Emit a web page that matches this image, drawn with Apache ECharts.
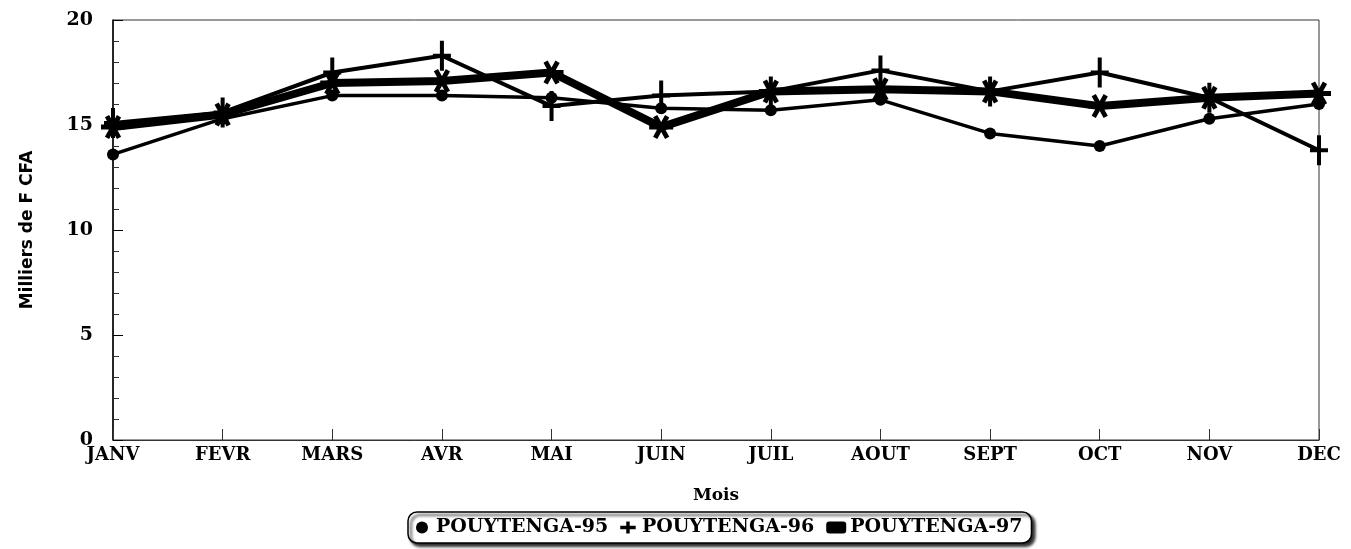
<!DOCTYPE html>
<html>
<head>
<meta charset="utf-8">
<script src="https://cdn.jsdelivr.net/npm/echarts@6/dist/echarts.min.js"></script>
<style>
  html, body { margin: 0; padding: 0; background: #fff; }
  #chart { width: 1351px; height: 549px; }
</style>
</head>
<body>
<div id="chart"></div>
<script>
// Monthly prices (thousands of F CFA), Pouytenga market
const months = ['JANV', 'FEVR', 'MARS', 'AVR', 'MAI', 'JUIN', 'JUIL', 'AOUT', 'SEPT', 'OCT', 'NOV', 'DEC'];
const pouytenga95 = [13.6, 15.3, 16.4, 16.4, 16.3, 15.8, 15.7, 16.2, 14.6, 14.0, 15.3, 16.0];
const pouytenga96 = [15.1, 15.6, 17.5, 18.3, 15.9, 16.4, 16.6, 17.6, 16.6, 17.5, 16.3, 13.8];
const pouytenga97 = [14.9, 15.5, 17.0, 17.1, 17.5, 14.9, 16.6, 16.7, 16.6, 15.9, 16.3, 16.5];
const yTicks = [0, 5, 10, 15, 20];

// marker shapes
const plusMark = 'path://M7,0h4v30h-4z M0,13h18v4h-18z';
const plusIcon = 'path://M7,0h4v14h-4z M0,5h18v4h-18z';
const starMark = 'path://M4,0L6,0L6,10L4,10Z M1.07,1.63L9.83,6.63L8.83,8.37L0.17,3.37Z M8.93,1.63L9.83,3.37L1.07,8.37L0.17,6.63Z';

const serif = '"DejaVu Serif", "Liberation Serif", serif';

const chart = echarts.init(document.getElementById('chart'));
chart.setOption({
  animation: false,
  backgroundColor: '#fff',
  grid: {
    left: 113, right: 32, top: 20, bottom: 109,
    show: true, borderColor: '#333', borderWidth: 1, backgroundColor: 'transparent'
  },
  legend: {
    left: 408, top: 512,
    orient: 'horizontal',
    itemWidth: 20, itemHeight: 12, itemGap: 12,
    padding: [6, 9, 6, 8],
    backgroundColor: '#fff',
    borderColor: '#000', borderWidth: 1.5, borderRadius: 9,
    shadowColor: 'rgba(0,0,0,0.85)', shadowBlur: 3, shadowOffsetX: 3, shadowOffsetY: 3,
    textStyle: { fontFamily: serif, fontSize: 19, fontWeight: 'bold', color: '#000', padding: [0, 0, 0, -1] },
    data: [
      { name: 'POUYTENGA-95', icon: 'circle' },
      { name: 'POUYTENGA-96', icon: plusIcon },
      { name: 'POUYTENGA-97', icon: 'roundRect' }
    ]
  },
  xAxis: {
    type: 'category',
    data: months,
    boundaryGap: false,
    name: 'Mois',
    nameLocation: 'middle',
    nameGap: 47,
    nameTextStyle: { fontFamily: serif, fontSize: 17, fontWeight: 'bold', color: '#000' },
    axisLine: { lineStyle: { color: '#333', width: 1 } },
    axisTick: { inside: true, length: 11, lineStyle: { color: '#333' } },
    axisLabel: { fontFamily: serif, fontSize: 18, fontWeight: 'bold', color: '#000', margin: 6 },
    splitLine: { show: false }
  },
  yAxis: {
    type: 'value',
    min: yTicks[0], max: yTicks[yTicks.length - 1], interval: 5,
    name: 'Milliers de F CFA',
    nameLocation: 'middle',
    nameGap: 77,
    nameRotate: 90,
    nameTextStyle: { fontFamily: '"DejaVu Sans", sans-serif', fontSize: 17, fontWeight: 'bold', color: '#000' },
    axisLine: { show: true, lineStyle: { color: '#000', width: 1.5 } },
    axisTick: { show: true, inside: true, length: 10, lineStyle: { color: '#000' } },
    minorTick: { show: true, splitNumber: 5, length: 6, lineStyle: { color: '#333' } },
    axisLabel: { fontFamily: serif, fontSize: 19, fontWeight: 'bold', color: '#000', margin: 20 },
    splitLine: { show: false }
  },
  series: [
    {
      name: 'POUYTENGA-95', type: 'line', data: pouytenga95,
      symbol: 'circle', symbolSize: 12,
      lineStyle: { color: '#000', width: 3.5 },
      itemStyle: { color: '#000' }
    },
    {
      name: 'POUYTENGA-96', type: 'line', data: pouytenga96,
      symbol: plusMark, symbolSize: [18, 30],
      lineStyle: { color: '#000', width: 4 },
      itemStyle: { color: '#000' }
    },
    {
      name: 'POUYTENGA-97', type: 'line', data: pouytenga97,
      symbol: starMark, symbolSize: 24, symbolRotate: 90,
      lineStyle: { color: '#000', width: 8 },
      itemStyle: { color: '#000' }
    }
  ]
});
</script>
</body>
</html>
